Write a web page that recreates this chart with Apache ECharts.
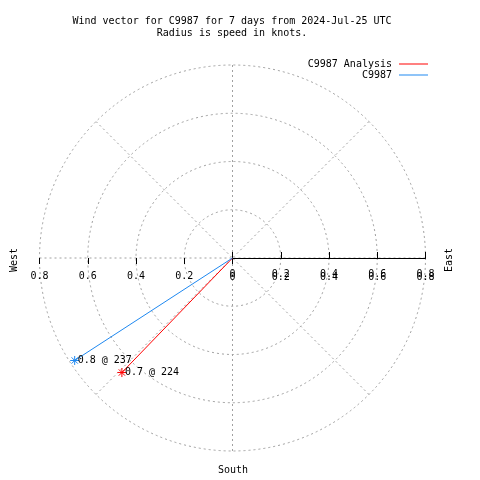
<!DOCTYPE html>
<html>
<head>
<meta charset="utf-8">
<script src="https://cdn.jsdelivr.net/npm/echarts@6/dist/echarts.min.js"></script>
<style>html,body{margin:0;padding:0;background:#fff}#c{width:480px;height:480px}</style>
</head>
<body>
<div id="c"></div>
<script>
// ---- data ----
const seriesNames = ['C9987 Analysis', 'C9987'];
const speeds = [0.66, 0.78];        // knots (radius)
const directions = [224, 237];      // degrees (compass bearing)
const seriesColors = ['#ff0000', '#1e88f0'];
const radiusTicks = [0, 0.2, 0.4, 0.6, 0.8];
const titleLines = ['Wind vector for C9987 for 7 days from 2024-Jul-25 UTC', 'Radius is speed in knots.'];

const FONT = 'DejaVu Sans Mono';
const CX = 232.5, CY = 258, R = 193;
const RMAX = radiusTicks[radiusTicks.length - 1];
const RINT = radiusTicks[1] - radiusTicks[0];
const grey = '#a0a0a0';

function angleAx(idx, start) {
  return { polarIndex: idx, type: 'value', min: 0, max: 360, startAngle: start, clockwise: true,
    axisLine: {show: false}, axisTick: {show: false}, axisLabel: {show: false}, splitLine: {show: false} };
}
function radAx(idx, opts) {
  return Object.assign({ polarIndex: idx, type: 'value', min: 0, max: RMAX, interval: RINT,
    axisLine: {show: false}, axisTick: {show: false}, axisLabel: {show: false}, splitLine: {show: false} }, opts);
}
const lblFmt = v => String(+v.toFixed(1));

const chart = echarts.init(document.getElementById('c'), null, {renderer: 'canvas'});
const option = {
  animation: false,
  backgroundColor: '#ffffff',
  title: {
    text: titleLines.join('\n'),
    left: 227, top: 10, textAlign: 'center',
    textStyle: {fontFamily: FONT, fontSize: 10, fontWeight: 'normal', color: '#000', lineHeight: 12}
  },
  legend: {
    orient: 'vertical', right: 47, top: 54, align: 'right',
    itemWidth: 29, itemHeight: 1, itemGap: 1, icon: 'rect',
    itemStyle: {borderWidth: 0},
    textStyle: {fontFamily: FONT, fontSize: 10, color: '#000', padding: [0, 2, 0, 0]},
    data: seriesNames
  },
  polar: [0, 1, 2, 3, 4].map(() => ({center: [CX, CY], radius: R})),
  angleAxis: [
    Object.assign(angleAx(0, 90), {interval: 45,
      splitLine: {show: true, lineStyle: {color: grey, type: [2, 3], width: 1}}}),
    angleAx(1, 0), angleAx(2, 180), angleAx(3, 0), angleAx(4, 180)
  ],
  radiusAxis: [
    radAx(0, {splitLine: {show: true, lineStyle: {color: grey, type: [2, 3], width: 1}}}),
    radAx(1, {
      axisLine: {show: true, lineStyle: {color: '#000', width: 1}},
      axisTick: {show: true, length: 6, lineStyle: {color: '#000'}},
      axisLabel: {show: true, fontFamily: FONT, fontSize: 10, color: '#000', margin: -24, formatter: lblFmt}
    }),
    radAx(2, {
      axisTick: {show: true, length: 6, lineStyle: {color: '#000'}},
      axisLabel: {show: true, fontFamily: FONT, fontSize: 10, color: '#000', margin: 13,
        showMinLabel: false, formatter: lblFmt}
    }),
    radAx(3, {axisTick: {show: true, inside: true, length: 6, lineStyle: {color: '#000'}},
      axisLabel: {show: true, fontFamily: FONT, fontSize: 10, color: '#000', margin: -21, formatter: lblFmt}}),
    radAx(4, {axisTick: {show: true, inside: true, length: 6, lineStyle: {color: '#000'}}})
  ],
  graphic: [
    {type: 'text', left: 218, top: 465, style: {text: 'South', font: '10px ' + FONT, fill: '#000'}},
    {type: 'text', x: 9, y: 272, rotation: Math.PI / 2, style: {text: 'West', font: '10px ' + FONT, fill: '#000'}},
    {type: 'text', x: 444, y: 272, rotation: Math.PI / 2, style: {text: 'East', font: '10px ' + FONT, fill: '#000'}}
  ],
  series: seriesNames.map((name, i) => ({
    name: name,
    type: 'line',
    coordinateSystem: 'polar',
    polarIndex: 0,
    color: seriesColors[i],
    lineStyle: {width: 1, color: seriesColors[i]},
    symbol: 'path://M-5,0L5,0M0,-5L0,5M-3.5,-3.5L3.5,3.5M-3.5,3.5L3.5,-3.5',
    symbolSize: 9,
    itemStyle: {color: seriesColors[i], borderColor: seriesColors[i], borderWidth: 1},
    z: 5,
    data: [
      {value: [0, directions[i]], symbol: 'none'},
      {value: [speeds[i], directions[i]],
       label: {show: true, position: 'right', distance: -2, fontFamily: FONT, fontSize: 10, color: '#000',
         formatter: speeds[i].toFixed(1) + ' @ ' + directions[i]}}
    ]
  }))
};
chart.setOption(option);
</script>
</body>
</html>
